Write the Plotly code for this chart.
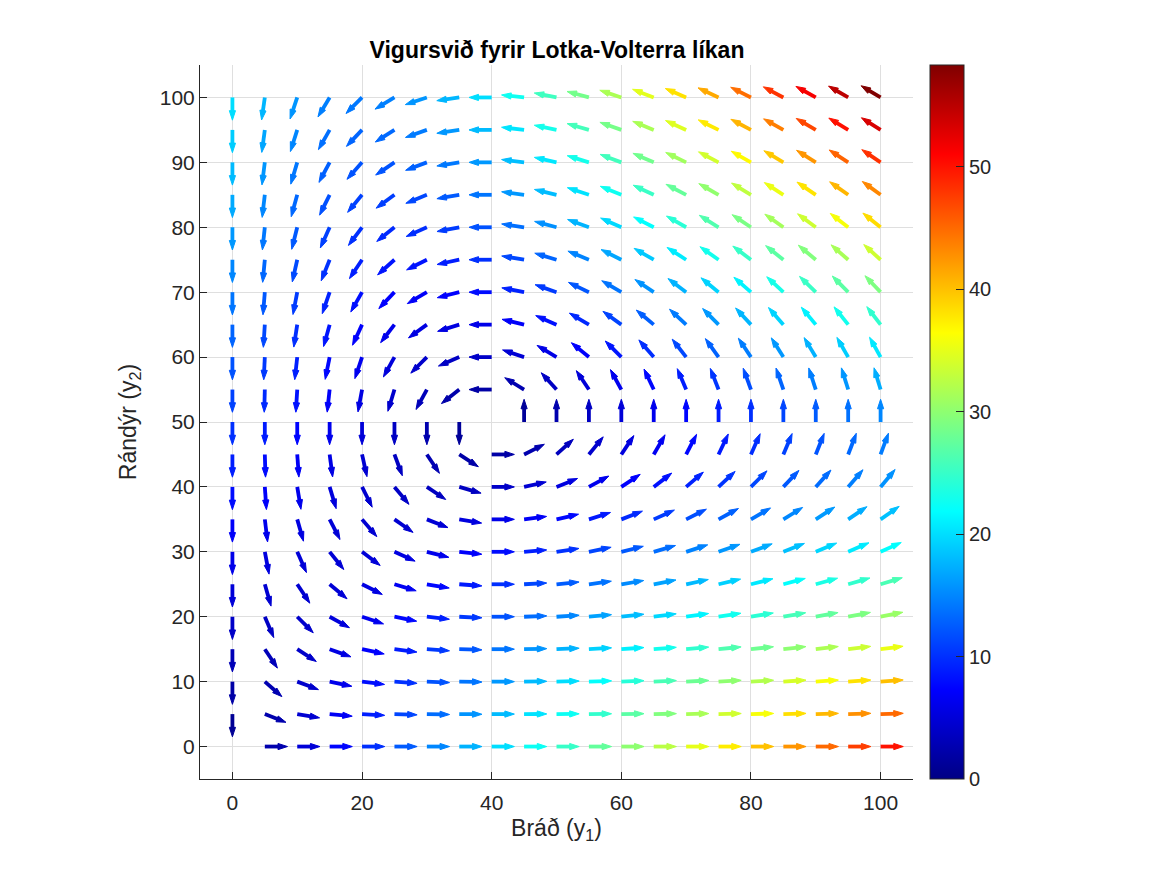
import math
import plotly.graph_objects as go
from plotly.colors import sample_colorscale

# Grid of the vector field
y1_vals = [0, 5, 10, 15, 20, 25, 30, 35, 40, 45, 50, 55, 60, 65, 70, 75, 80, 85, 90, 95, 100]
y2_vals = [0, 5, 10, 15, 20, 25, 30, 35, 40, 45, 50, 55, 60, 65, 70, 75, 80, 85, 90, 95, 100]

# Horizontal component, one row per y2 value
u_rows = [
    [0, 2.5, 5, 7.5, 10, 12.5, 15, 17.5, 20, 22.5, 25, 27.5, 30, 32.5, 35, 37.5, 40, 42.5, 45, 47.5, 50],
    [0, 2.25, 4.5, 6.75, 9, 11.25, 13.5, 15.75, 18, 20.25, 22.5, 24.75, 27, 29.25, 31.5, 33.75, 36, 38.25, 40.5, 42.75, 45],
    [0, 2, 4, 6, 8, 10, 12, 14, 16, 18, 20, 22, 24, 26, 28, 30, 32, 34, 36, 38, 40],
    [0, 1.75, 3.5, 5.25, 7, 8.75, 10.5, 12.25, 14, 15.75, 17.5, 19.25, 21, 22.75, 24.5, 26.25, 28, 29.75, 31.5, 33.25, 35],
    [0, 1.5, 3, 4.5, 6, 7.5, 9, 10.5, 12, 13.5, 15, 16.5, 18, 19.5, 21, 22.5, 24, 25.5, 27, 28.5, 30],
    [0, 1.25, 2.5, 3.75, 5, 6.25, 7.5, 8.75, 10, 11.25, 12.5, 13.75, 15, 16.25, 17.5, 18.75, 20, 21.25, 22.5, 23.75, 25],
    [0, 1, 2, 3, 4, 5, 6, 7, 8, 9, 10, 11, 12, 13, 14, 15, 16, 17, 18, 19, 20],
    [0, 0.75, 1.5, 2.25, 3, 3.75, 4.5, 5.25, 6, 6.75, 7.5, 8.25, 9, 9.75, 10.5, 11.25, 12, 12.75, 13.5, 14.25, 15],
    [0, 0.5, 1, 1.5, 2, 2.5, 3, 3.5, 4, 4.5, 5, 5.5, 6, 6.5, 7, 7.5, 8, 8.5, 9, 9.5, 10],
    [0, 0.25, 0.5, 0.75, 1, 1.25, 1.5, 1.75, 2, 2.25, 2.5, 2.75, 3, 3.25, 3.5, 3.75, 4, 4.25, 4.5, 4.75, 5],
    [0, 0, 0, 0, 0, 0, 0, 0, 0, 0, 0, 0, 0, 0, 0, 0, 0, 0, 0, 0, 0],
    [0, -0.25, -0.5, -0.75, -1, -1.25, -1.5, -1.75, -2, -2.25, -2.5, -2.75, -3, -3.25, -3.5, -3.75, -4, -4.25, -4.5, -4.75, -5],
    [0, -0.5, -1, -1.5, -2, -2.5, -3, -3.5, -4, -4.5, -5, -5.5, -6, -6.5, -7, -7.5, -8, -8.5, -9, -9.5, -10],
    [0, -0.75, -1.5, -2.25, -3, -3.75, -4.5, -5.25, -6, -6.75, -7.5, -8.25, -9, -9.75, -10.5, -11.25, -12, -12.75, -13.5, -14.25, -15],
    [0, -1, -2, -3, -4, -5, -6, -7, -8, -9, -10, -11, -12, -13, -14, -15, -16, -17, -18, -19, -20],
    [0, -1.25, -2.5, -3.75, -5, -6.25, -7.5, -8.75, -10, -11.25, -12.5, -13.75, -15, -16.25, -17.5, -18.75, -20, -21.25, -22.5, -23.75, -25],
    [0, -1.5, -3, -4.5, -6, -7.5, -9, -10.5, -12, -13.5, -15, -16.5, -18, -19.5, -21, -22.5, -24, -25.5, -27, -28.5, -30],
    [0, -1.75, -3.5, -5.25, -7, -8.75, -10.5, -12.25, -14, -15.75, -17.5, -19.25, -21, -22.75, -24.5, -26.25, -28, -29.75, -31.5, -33.25, -35],
    [0, -2, -4, -6, -8, -10, -12, -14, -16, -18, -20, -22, -24, -26, -28, -30, -32, -34, -36, -38, -40],
    [0, -2.25, -4.5, -6.75, -9, -11.25, -13.5, -15.75, -18, -20.25, -22.5, -24.75, -27, -29.25, -31.5, -33.75, -36, -38.25, -40.5, -42.75, -45],
    [0, -2.5, -5, -7.5, -10, -12.5, -15, -17.5, -20, -22.5, -25, -27.5, -30, -32.5, -35, -37.5, -40, -42.5, -45, -47.5, -50],
]

# Vertical component, one row per y2 value
v_rows = [
    [0, 0, 0, 0, 0, 0, 0, 0, 0, 0, 0, 0, 0, 0, 0, 0, 0, 0, 0, 0, 0],
    [-1, -0.875, -0.75, -0.625, -0.5, -0.375, -0.25, -0.125, 0, 0.125, 0.25, 0.375, 0.5, 0.625, 0.75, 0.875, 1, 1.125, 1.25, 1.375, 1.5],
    [-2, -1.75, -1.5, -1.25, -1, -0.75, -0.5, -0.25, 0, 0.25, 0.5, 0.75, 1, 1.25, 1.5, 1.75, 2, 2.25, 2.5, 2.75, 3],
    [-3, -2.625, -2.25, -1.875, -1.5, -1.125, -0.75, -0.375, 0, 0.375, 0.75, 1.125, 1.5, 1.875, 2.25, 2.625, 3, 3.375, 3.75, 4.125, 4.5],
    [-4, -3.5, -3, -2.5, -2, -1.5, -1, -0.5, 0, 0.5, 1, 1.5, 2, 2.5, 3, 3.5, 4, 4.5, 5, 5.5, 6],
    [-5, -4.375, -3.75, -3.125, -2.5, -1.875, -1.25, -0.625, 0, 0.625, 1.25, 1.875, 2.5, 3.125, 3.75, 4.375, 5, 5.625, 6.25, 6.875, 7.5],
    [-6, -5.25, -4.5, -3.75, -3, -2.25, -1.5, -0.75, 0, 0.75, 1.5, 2.25, 3, 3.75, 4.5, 5.25, 6, 6.75, 7.5, 8.25, 9],
    [-7, -6.125, -5.25, -4.375, -3.5, -2.625, -1.75, -0.875, 0, 0.875, 1.75, 2.625, 3.5, 4.375, 5.25, 6.125, 7, 7.875, 8.75, 9.625, 10.5],
    [-8, -7, -6, -5, -4, -3, -2, -1, 0, 1, 2, 3, 4, 5, 6, 7, 8, 9, 10, 11, 12],
    [-9, -7.875, -6.75, -5.625, -4.5, -3.375, -2.25, -1.125, 0, 1.125, 2.25, 3.375, 4.5, 5.625, 6.75, 7.875, 9, 10.125, 11.25, 12.375, 13.5],
    [-10, -8.75, -7.5, -6.25, -5, -3.75, -2.5, -1.25, 0, 1.25, 2.5, 3.75, 5, 6.25, 7.5, 8.75, 10, 11.25, 12.5, 13.75, 15],
    [-11, -9.625, -8.25, -6.875, -5.5, -4.125, -2.75, -1.375, 0, 1.375, 2.75, 4.125, 5.5, 6.875, 8.25, 9.625, 11, 12.375, 13.75, 15.125, 16.5],
    [-12, -10.5, -9, -7.5, -6, -4.5, -3, -1.5, 0, 1.5, 3, 4.5, 6, 7.5, 9, 10.5, 12, 13.5, 15, 16.5, 18],
    [-13, -11.375, -9.75, -8.125, -6.5, -4.875, -3.25, -1.625, 0, 1.625, 3.25, 4.875, 6.5, 8.125, 9.75, 11.375, 13, 14.625, 16.25, 17.875, 19.5],
    [-14, -12.25, -10.5, -8.75, -7, -5.25, -3.5, -1.75, 0, 1.75, 3.5, 5.25, 7, 8.75, 10.5, 12.25, 14, 15.75, 17.5, 19.25, 21],
    [-15, -13.125, -11.25, -9.375, -7.5, -5.625, -3.75, -1.875, 0, 1.875, 3.75, 5.625, 7.5, 9.375, 11.25, 13.125, 15, 16.875, 18.75, 20.625, 22.5],
    [-16, -14, -12, -10, -8, -6, -4, -2, 0, 2, 4, 6, 8, 10, 12, 14, 16, 18, 20, 22, 24],
    [-17, -14.875, -12.75, -10.625, -8.5, -6.375, -4.25, -2.125, 0, 2.125, 4.25, 6.375, 8.5, 10.625, 12.75, 14.875, 17, 19.125, 21.25, 23.375, 25.5],
    [-18, -15.75, -13.5, -11.25, -9, -6.75, -4.5, -2.25, 0, 2.25, 4.5, 6.75, 9, 11.25, 13.5, 15.75, 18, 20.25, 22.5, 24.75, 27],
    [-19, -16.625, -14.25, -11.875, -9.5, -7.125, -4.75, -2.375, 0, 2.375, 4.75, 7.125, 9.5, 11.875, 14.25, 16.625, 19, 21.375, 23.75, 26.125, 28.5],
    [-20, -17.5, -15, -12.5, -10, -7.5, -5, -2.5, 0, 2.5, 5, 7.5, 10, 12.5, 15, 17.5, 20, 22.5, 25, 27.5, 30],
]

title_text = "<b>Vigursvið fyrir Lotka-Volterra líkan</b>"
x_label = "Bráð (y<sub>1</sub>)"
y_label = "Rándýr (y<sub>2</sub>)"
x_ticks = [0, 20, 40, 60, 80, 100]
y_ticks = [0, 10, 20, 30, 40, 50, 60, 70, 80, 90, 100]
bar_ticks = [0, 10, 20, 30, 40, 50]

ARROW_LEN = 3.5   # data units, tail to tip
SHAFT_LEN = 2.6
JET = [[0, "rgb(0,0,132)"], [0.125, "rgb(0,0,255)"], [0.375, "rgb(0,255,255)"],
       [0.625, "rgb(255,255,0)"], [0.875, "rgb(255,0,0)"], [1, "rgb(128,0,0)"]]

mags, tips_x, tips_y, angles, tails = [], [], [], [], []
for j, y2 in enumerate(y2_vals):
    for i, y1 in enumerate(y1_vals):
        u, v = u_rows[j][i], v_rows[j][i]
        m = math.hypot(u, v)
        if m == 0:
            continue
        ux, uy = u / m, v / m
        mags.append(m)
        tips_x.append(y1 + ARROW_LEN * ux)
        tips_y.append(y2 + ARROW_LEN * uy)
        angles.append(math.degrees(math.atan2(ux, uy)))
        tails.append((y1, y2, y1 + SHAFT_LEN * ux, y2 + SHAFT_LEN * uy))

cmax = max(mags)
cols = sample_colorscale(JET, [m / cmax for m in mags])
fig = go.Figure()
for (x0, y0, x1, y1_), col in zip(tails, cols):
    fig.add_trace(go.Scatter(x=[x0, x1], y=[y0, y1_], mode="lines",
                             line=dict(color=col, width=3.8), hoverinfo="skip", showlegend=False))

fig.add_trace(go.Scatter(
    x=tips_x, y=tips_y, mode="markers", showlegend=False,
    marker=dict(symbol="arrow", size=10, angle=angles, color=mags, colorscale=JET,
                cmin=0, cmax=cmax, line=dict(width=1, color=cols),
                colorbar=dict(thickness=34, thicknessmode="pixels", len=1, lenmode="fraction",
                              x=1.0238, xanchor="left", y=0, yanchor="bottom", ypad=0, xpad=0,
                              tickvals=bar_ticks, ticks="inside", ticklen=8, tickwidth=1,
                              tickcolor="#262626", outlinecolor="#262626", outlinewidth=1,
                              tickfont=dict(family="Liberation Sans", size=20, color="#262626"))),
))

axis_common = dict(range=[-5, 105], ticks="inside", ticklen=7, tickwidth=1,
                   tickcolor="#262626", showline=True, linecolor="#262626", linewidth=1,
                   mirror=False, showgrid=True, gridcolor="#dfdfdf", gridwidth=1, zeroline=False,
                   tickfont=dict(family="Liberation Sans", size=21, color="#262626"))

fig.update_layout(
    width=1167, height=875, paper_bgcolor="white", plot_bgcolor="white",
    margin=dict(l=200, r=254, t=65, b=96),
    font=dict(family="Liberation Sans"),
    title=dict(text=title_text, x=557 / 1167, xanchor="center", y=1 - 50 / 875, yanchor="middle",
               font=dict(family="Liberation Sans", size=23, color="black")),
    xaxis=dict(axis_common, tickvals=x_ticks, ticklabelstandoff=5,
               title=dict(text=x_label, standoff=6,
                          font=dict(family="Liberation Sans", size=23, color="#262626"))),
    yaxis=dict(axis_common, tickvals=y_ticks,
               title=dict(text=y_label, standoff=16,
                          font=dict(family="Liberation Sans", size=23, color="#262626"))),
)
fig.write_html("out.html", config={"displayModeBar": False},
               post_script="document.body.style.margin='0';")
